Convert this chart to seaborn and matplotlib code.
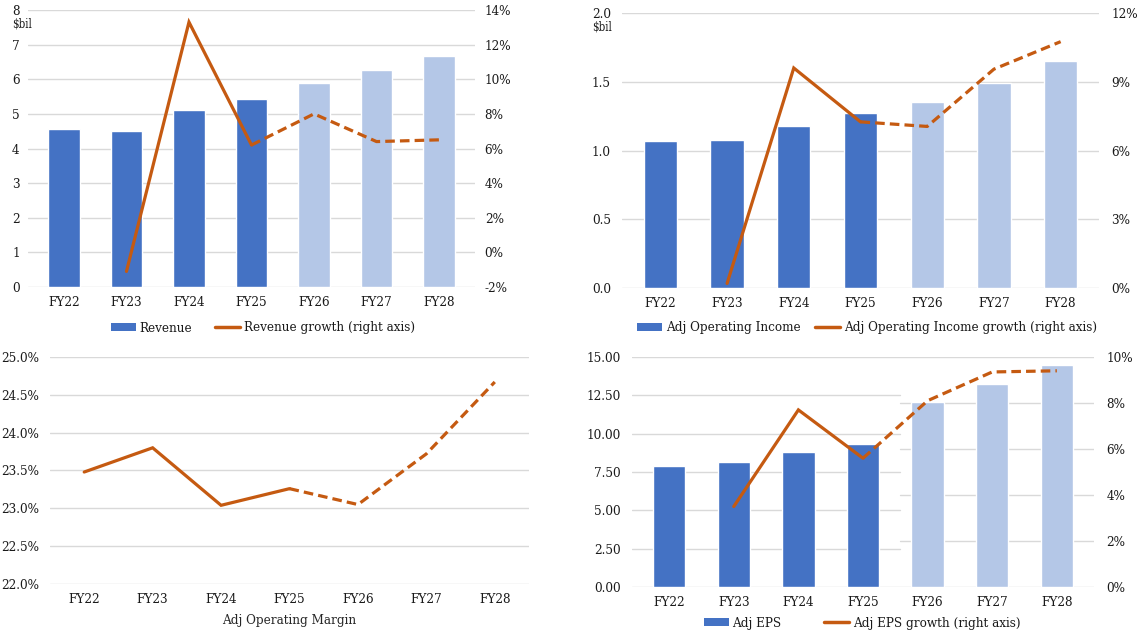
import matplotlib
matplotlib.use("Agg")
import matplotlib.pyplot as plt
import matplotlib.transforms as mtransforms
from matplotlib.patches import Patch
from matplotlib.lines import Line2D
from matplotlib.ticker import FuncFormatter, MultipleLocator
import seaborn as sns
import pandas as pd

# ---- Data ----
years = ["FY22", "FY23", "FY24", "FY25", "FY26", "FY27", "FY28"]
is_forecast = [False, False, False, False, True, True, True]

revenue = [4.57, 4.51, 5.12, 5.43, 5.89, 6.27, 6.67]               # $bil
revenue_growth = [None, -1.1, 13.3, 6.2, 8.0, 6.4, 6.5]            # %

op_income = [1.07, 1.08, 1.18, 1.27, 1.355, 1.49, 1.65]            # $bil
op_income_growth = [None, 0.2, 9.6, 7.25, 7.05, 9.55, 10.75]       # %

op_margin = [23.48, 23.80, 23.04, 23.26, 23.05, 23.72, 24.67]      # %

eps = [7.87, 8.13, 8.78, 9.30, 12.04, 13.22, 14.46]
eps_growth = [None, 3.5, 7.7, 5.6, 8.1, 9.35, 9.4]                 # %

# ---- Styling ----
DARK = "#4472C4"
LIGHT = "#B4C7E7"
ORANGE = "#C55A11"
GRID = "#D9D9D9"
TEXT = "#1a1a1a"
FS = 9.6

sns.set_theme(style="white")
plt.rcParams["font.family"] = ["DejaVu Serif"]
plt.rcParams["font.stretch"] = "condensed"
plt.rcParams["font.size"] = FS
plt.rcParams["text.color"] = TEXT
plt.rcParams["xtick.color"] = TEXT
plt.rcParams["ytick.color"] = TEXT

W, H = 1142, 634
fig = plt.figure(figsize=(W / 100, H / 100), dpi=100)


def place(l, t, r, b):
    return fig.add_axes([l / W, 1 - b / H, (r - l) / W, (b - t) / H])


palette = {y: (LIGHT if f else DARK) for y, f in zip(years, is_forecast)}
split = is_forecast.index(True) - 1  # last actual year -> dashed after it


def draw_bars(ax, values):
    df = pd.DataFrame({"year": years, "value": values})
    sns.barplot(data=df, x="year", y="value", hue="year", palette=palette,
                legend=False, width=0.5, saturation=1, ax=ax, zorder=2)
    ax.set_xlabel("")
    ax.set_ylabel("")


def draw_growth(ax, values):
    xs = [i for i, v in enumerate(values) if v is not None]
    vs = [v for v in values if v is not None]
    solid_x = [x for x in xs if x <= split]
    solid_v = [v for x, v in zip(xs, vs) if x <= split]
    dash_x = [x for x in xs if x >= split]
    dash_v = [v for x, v in zip(xs, vs) if x >= split]
    ax.plot(solid_x, solid_v, color=ORANGE, lw=2.3, solid_joinstyle="miter", zorder=3)
    ax.plot(dash_x, dash_v, color=ORANGE, lw=2.3, ls=(0, (3, 1.6)), zorder=3)


def clean(ax):
    for s in ax.spines.values():
        s.set_visible(False)
    ax.tick_params(axis="both", length=0, labelsize=FS)
    ax.tick_params(axis="x", pad=6.5)


def legend(handles, labels, x, y, colsp):
    fig.legend(handles, labels, loc="center", bbox_to_anchor=(x / W, 1 - y / H),
               ncol=2, frameon=False, fontsize=FS, handlelength=1.9,
               handleheight=0.5, handletextpad=0.25, columnspacing=colsp,
               borderpad=0, borderaxespad=0)


bar_handle = Patch(facecolor=DARK, edgecolor="none")
line_handle = Line2D([], [], color=ORANGE, lw=2.5)
pct0 = FuncFormatter(lambda v, p: f"{v:.0f}%")

# ---- Top left: Revenue ----
ax = place(28, 10, 475, 287)
draw_bars(ax, revenue)
ax.set_ylim(0, 8)
ax.yaxis.set_major_locator(MultipleLocator(1))
ax.yaxis.grid(True, color=GRID, lw=1, zorder=0)
ax.set_axisbelow(True)
clean(ax)
ax.tick_params(axis="y", pad=6)
ax2 = ax.twinx()
draw_growth(ax2, revenue_growth)
ax2.set_ylim(-2, 14)
ax2.yaxis.set_major_locator(MultipleLocator(2))
ax2.yaxis.set_major_formatter(pct0)
clean(ax2)
ax2.tick_params(axis="y", pad=7)
fig.text(12 / W, 1 - 24 / H, "\\$bil", fontsize=8.3, ha="left", va="center")
legend([bar_handle, line_handle], ["Revenue", "Revenue growth (right axis)"], 263, 328, 1.7)

# ---- Top right: Adj Operating Income ----
ax = place(622, 13, 1099, 288)
draw_bars(ax, op_income)
ax.set_ylim(0, 2.0)
ax.yaxis.set_major_locator(MultipleLocator(0.5))
ax.yaxis.set_major_formatter(FuncFormatter(lambda v, p: f"{v:.1f}"))
ax.yaxis.grid(True, color=GRID, lw=1, zorder=0)
ax.set_axisbelow(True)
clean(ax)
ax.tick_params(axis="y", pad=8)
ax2 = ax.twinx()
draw_growth(ax2, op_income_growth)
ax2.set_ylim(0, 12)
ax2.yaxis.set_major_locator(MultipleLocator(3))
ax2.yaxis.set_major_formatter(pct0)
clean(ax2)
ax2.tick_params(axis="y", pad=9)
fig.text(612 / W, 1 - 27 / H, "\\$bil", fontsize=8.3, ha="right", va="center")
legend([bar_handle, line_handle],
       ["Adj Operating Income", "Adj Operating Income growth (right axis)"], 867, 328, 1.1)

# ---- Bottom left: Adj Operating Margin ----
ax = place(50, 357, 529, 584)
draw_growth(ax, op_margin)
ax.set_xlim(-0.5, len(years) - 0.5)
ax.set_xticks(range(len(years)))
ax.set_xticklabels(years)
ax.set_ylim(22.0, 25.0)
ax.yaxis.set_major_locator(MultipleLocator(0.5))
ax.yaxis.set_major_formatter(FuncFormatter(lambda v, p: f"{v:.1f}%"))
ax.yaxis.grid(True, color=GRID, lw=1, zorder=0)
ax.set_axisbelow(True)
clean(ax)
ax.tick_params(axis="y", pad=8)
ax.set_xlabel("Adj Operating Margin", fontsize=FS, labelpad=6)

# ---- Bottom right: Adj EPS ----
ax = place(632, 357, 1094, 587)
draw_bars(ax, eps)
ax.set_ylim(0, 15)
ax.yaxis.set_major_locator(MultipleLocator(2.5))
ax.yaxis.set_major_formatter(FuncFormatter(lambda v, p: f"{v:.2f}"))
clean(ax)
ax.tick_params(axis="y", pad=8)
ax2 = ax.twinx()
draw_growth(ax2, eps_growth)
ax2.set_ylim(0, 10)
ax2.yaxis.set_major_locator(MultipleLocator(2))
ax2.yaxis.set_major_formatter(pct0)
clean(ax2)
ax2.tick_params(axis="y", pad=9)
# split gridlines: left-axis grid on the left part, right-axis grid on the right part
cut = 0.58
for v in [0, 2.5, 5, 7.5, 10, 12.5, 15]:
    ax.plot([0, cut if 0 < v < 15 else 1], [v, v], color=GRID, lw=1, zorder=0,
            transform=mtransforms.blended_transform_factory(ax.transAxes, ax.transData))
for v in [2, 4, 6, 8]:
    ax.plot([cut, 1], [v, v], color=GRID, lw=1, zorder=0,
            transform=mtransforms.blended_transform_factory(ax.transAxes, ax2.transData))
legend([bar_handle, line_handle], ["Adj EPS", "Adj EPS growth (right axis)"], 862, 623, 3.2)

fig.savefig("out.png", dpi=100)
